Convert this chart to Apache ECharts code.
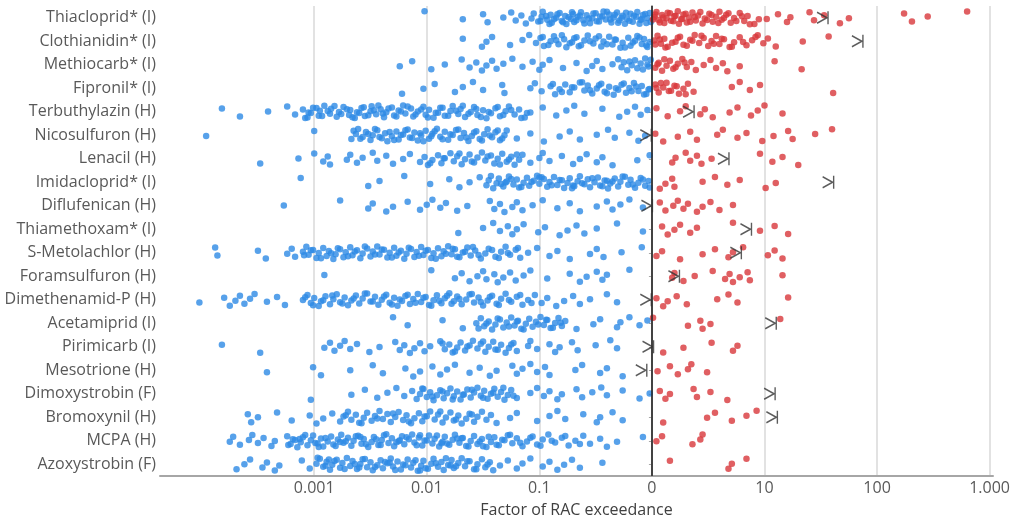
<!DOCTYPE html>
<html lang="en">
<head>
<meta charset="UTF-8">
<title>Factor of RAC exceedance</title>
<script src="https://cdn.jsdelivr.net/npm/echarts@6/dist/echarts.min.js"></script>
</head>
<body style="margin:0">
<div id="main" style="width:1014px;height:519px;"></div>
<script>
const substances = ['Thiacloprid* (I)', 'Clothianidin* (I)', 'Methiocarb* (I)', 'Fipronil* (I)',
    'Terbuthylazin (H)', 'Nicosulfuron (H)', 'Lenacil (H)', 'Imidacloprid* (I)', 'Diflufenican (H)',
    'Thiamethoxam* (I)', 'S-Metolachlor (H)', 'Foramsulfuron (H)', 'Dimethenamid-P (H)', 'Acetamiprid (I)',
    'Pirimicarb (I)', 'Mesotrione (H)', 'Dimoxystrobin (F)', 'Bromoxynil (H)', 'MCPA (H)', 'Azoxystrobin (F)'];

// tick positions (log10) and how they are labelled
const tickValues = [-3, -2, -1, 0, 1, 2, 3];
const tickLabels = ['0.001', '0.01', '0.1', '0', '10', '100', '1.000'];

// log10 of the factor of RAC exceedance, one list per substance
const thiacloprid = [-2.02, -1.68, -1.5, -1.46, -1.32, -1.25, -1.21, -1.16, -1.12, -1.07, -1.05, -1.01, -0.98, -0.97, -0.93, -0.9, -0.89, -0.85, -0.82, -0.8, -0.77, -0.76, -0.72, -0.7, -0.69, -0.66, -0.63, -0.61, -0.58, -0.55, -0.53, -0.5, -0.49, -0.46, -0.43, -0.41, -0.38, -0.36, -0.34, -0.31, -0.29, -0.26, -0.24, -0.22, -0.19, -0.17, -0.14, -0.13, -0.1, -0.08, -0.05, -0.04, -0.02,
    -0.99, -0.94, -0.91, -0.87, -0.84, -0.79, -0.74, -0.71, -0.67, -0.64, -0.6, -0.56, -0.52, -0.47, -0.44, -0.4, -0.37, -0.33, -0.3, -0.27, -0.23, -0.2, -0.16, -0.11, -0.09, -0.06, -0.01,
    0.02, 0.04, 0.06, 0.09, 0.11, 0.13, 0.16, 0.19, 0.2, 0.23, 0.26, 0.28, 0.31, 0.33, 0.36, 0.39, 0.41, 0.45, 0.47, 0.51, 0.54, 0.57, 0.6, 0.62, 0.66, 0.7, 0.73, 0.78, 0.82, 0.85, 0.91, 1.02, 1.12, 1.2, 1.23, 1.4, 1.44, 1.53, 1.67, 1.75, 2.24, 2.31, 2.45, 2.8,
    0.01, 0.03, 0.07, 0.1, 0.14, 0.17, 0.21, 0.24, 0.27, 0.3, 0.34, 0.38, 0.43, 0.49, 0.53, 0.59, 0.64, 0.68, 0.75, 0.8, 0.87, 0.95];
const clothianidin = [-1.68, -1.51, -1.47, -1.42, -1.26, -1.15, -1.09, -1.03, -0.99, -0.96, -0.9, -0.87, -0.83, -0.78, -0.76, -0.71, -0.67, -0.63, -0.6, -0.57, -0.52, -0.5, -0.45, -0.43, -0.38, -0.35, -0.32, -0.28, -0.26, -0.21, -0.19, -0.15, -0.13, -0.09, -0.07, -0.04, -0.02,
    -0.97, -0.92, -0.85, -0.8, -0.73, -0.69, -0.65, -0.55, -0.47, -0.4, -0.33, -0.24, -0.17, -0.11, -0.05,
    0.02, 0.05, 0.08, 0.11, 0.14, 0.21, 0.25, 0.28, 0.34, 0.38, 0.42, 0.46, 0.5, 0.53, 0.57, 0.6, 0.64, 0.69, 0.73, 0.78, 0.84, 0.89, 0.94, 0.99, 1.03, 1.1, 1.34, 1.57,
    0.03, 0.07, 0.12, 0.18, 0.23, 0.31, 0.36, 0.44, 0.55, 0.62, 0.71, 0.81, 0.92];
const methiocarb = [-2.24, -2.13, -1.96, -1.84, -1.69, -1.62, -1.56, -1.51, -1.47, -1.42, -1.38, -1.32, -1.24, -1.15, -1.06, -1.0, -0.97, -0.91, -0.79, -0.67, -0.58, -0.53, -0.49, -0.44, -0.35, -0.3, -0.27, -0.25, -0.22, -0.18, -0.15, -0.13, -0.1, -0.06, -0.03,
    -0.2, -0.08, -0.04, -0.01,
    0.03, 0.06, 0.09, 0.13, 0.16, 0.19, 0.23, 0.27, 0.31, 0.35, 0.39, 0.46, 0.52, 0.57, 0.63, 0.67, 0.78, 1.09, 1.33,
    0.05, 0.11, 0.21, 0.29];
const fipronil = [-2.22, -2.03, -1.93, -1.75, -1.68, -1.59, -1.5, -1.33, -1.31, -1.08, -1.04, -0.98, -0.9, -0.86, -0.82, -0.77, -0.73, -0.69, -0.64, -0.6, -0.57, -0.53, -0.49, -0.45, -0.42, -0.38, -0.34, -0.3, -0.27, -0.23, -0.2, -0.16, -0.12, -0.09, -0.05, -0.02,
    -0.88, -0.8, -0.71, -0.62, -0.55, -0.47, -0.4, -0.32, -0.25, -0.18, -0.14, -0.07, -0.03,
    0.03, 0.06, 0.1, 0.13, 0.17, 0.2, 0.24, 0.28, 0.32, 0.37, 0.71, 0.78, 0.87, 0.96, 1.61,
    0.04, 0.08, 0.15, 0.22, 0.3];
const terbuthylazin = [-3.82, -3.66, -3.41, -3.24, -3.17, -3.1, -3.06, -3.05, -3.01, -2.96, -2.95, -2.91, -2.86, -2.85, -2.8, -2.78, -2.74, -2.69, -2.68, -2.64, -2.6, -2.58, -2.55, -2.5, -2.49, -2.45, -2.41, -2.38, -2.36, -2.31, -2.29, -2.25, -2.21, -2.19, -2.14, -2.12, -2.08, -2.03, -2.01, -1.98, -1.94, -1.9, -1.88, -1.84, -1.79, -1.77, -1.72, -1.7, -1.66, -1.61, -1.58, -1.55, -1.5, -1.47, -1.43, -1.39, -1.35, -1.3, -1.27, -1.22, -1.18, -1.13, -1.08, -0.97, -0.85, -0.76, -0.69, -0.6, -0.44, -0.29, -0.22, -0.15, -0.1, -0.04,
    -3.08, -3.03, -2.98, -2.93, -2.88, -2.82, -2.76, -2.71, -2.66, -2.62, -2.56, -2.52, -2.47, -2.43, -2.39, -2.34, -2.27, -2.23, -2.17, -2.1, -2.05, -1.99, -1.92, -1.86, -1.81, -1.74, -1.68, -1.63, -1.56, -1.52, -1.45, -1.37, -1.32, -1.25, -1.16, -1.11,
    0.04, 0.14, 0.25, 0.3, 0.43, 0.47, 0.54, 0.69, 0.76, 0.88, 0.94, 1.0, 1.16];
const nicosulfuron = [-3.96, -3.0, -2.67, -2.63, -2.61, -2.57, -2.54, -2.5, -2.48, -2.44, -2.4, -2.37, -2.35, -2.31, -2.27, -2.25, -2.21, -2.17, -2.15, -2.11, -2.08, -2.05, -2.01, -1.98, -1.95, -1.91, -1.88, -1.84, -1.81, -1.77, -1.74, -1.7, -1.67, -1.63, -1.6, -1.56, -1.53, -1.49, -1.46, -1.42, -1.39, -1.35, -1.31, -1.29, -1.2, -1.08, -0.96, -0.82, -0.73, -0.64, -0.49, -0.39, -0.33, -0.2, -0.12, -0.06,
    -2.65, -2.59, -2.52, -2.46, -2.42, -2.33, -2.29, -2.23, -2.19, -2.13, -2.06, -2.03, -1.96, -1.93, -1.86, -1.79, -1.72, -1.65, -1.58, -1.51, -1.44, -1.37, -1.33,
    0.03, 0.1, 0.23, 0.34, 0.4, 0.58, 0.63, 0.76, 0.84, 0.98, 1.08, 1.21, 1.25, 1.45, 1.6];
const lenacil = [-3.48, -3.14, -3.0, -2.92, -2.88, -2.86, -2.71, -2.68, -2.62, -2.57, -2.48, -2.44, -2.36, -2.3, -2.21, -2.15, -2.06, -2.02, -1.99, -1.95, -1.9, -1.87, -1.84, -1.79, -1.76, -1.73, -1.69, -1.66, -1.62, -1.58, -1.55, -1.51, -1.48, -1.43, -1.4, -1.37, -1.33, -1.29, -1.25, -1.22, -1.18, -1.15, -1.08, -1.0, -0.97, -0.91, -0.8, -0.7, -0.64, -0.58, -0.49, -0.44, -0.35, -0.13, -0.02,
    -1.97, -1.85, -1.71, -1.6, -1.46, -1.35, -1.27, -1.2,
    0.18, 0.21, 0.3, 0.34, 0.4, 0.44, 0.53, 0.96, 1.07, 1.16, 1.3];
const imidacloprid = [-3.12, -2.52, -2.42, -2.2, -1.97, -1.8, -1.71, -1.62, -1.53, -1.47, -1.45, -1.41, -1.38, -1.36, -1.32, -1.29, -1.27, -1.23, -1.2, -1.18, -1.14, -1.11, -1.09, -1.05, -1.02, -1.0, -0.96, -0.93, -0.91, -0.87, -0.84, -0.82, -0.78, -0.75, -0.73, -0.69, -0.66, -0.64, -0.6, -0.57, -0.55, -0.51, -0.48, -0.46, -0.42, -0.39, -0.37, -0.33, -0.3, -0.28, -0.24, -0.21, -0.19, -0.15, -0.12, -0.1, -0.06, -0.03,
    -1.43, -1.34, -1.25, -1.16, -1.07, -0.98, -0.89, -0.8, -0.71, -0.62, -0.53, -0.44, -0.35, -0.26, -0.17, -0.08, -0.02, -1.3, -1.0, -0.7, -0.4,
    0.07, 0.12, 0.18, 0.2, 0.45, 0.56, 0.67, 0.78, 1.01, 1.1];
const diflufenican = [-3.27, -2.77, -2.52, -2.48, -2.36, -2.3, -2.17, -2.06, -2.0, -1.95, -1.88, -1.83, -1.73, -1.64, -1.44, -1.4, -1.35, -1.31, -1.24, -1.2, -1.15, -1.06, -0.97, -0.84, -0.73, -0.64, -0.49, -0.4, -0.35, -0.28, -0.2, -0.08,
    0.07, 0.12, 0.19, 0.23, 0.28, 0.32, 0.4, 0.45, 0.52, 0.6, 0.72];
const thiamethoxam = [-1.72, -1.5, -1.41, -1.35, -1.28, -1.24, -1.2, -1.14, -1.01, -0.95, -0.82, -0.75, -0.67, -0.6, -0.49, -0.31, -0.08,
    0.09, 0.14, 0.2, 0.25, 0.34, 0.4, 0.72, 0.96, 1.09, 1.21];
const sMetolachlor = [-3.88, -3.86, -3.5, -3.43, -3.24, -3.2, -3.17, -3.1, -3.07, -3.05, -3.01, -2.98, -2.96, -2.92, -2.89, -2.87, -2.83, -2.81, -2.77, -2.74, -2.72, -2.68, -2.66, -2.62, -2.59, -2.57, -2.53, -2.5, -2.48, -2.44, -2.42, -2.38, -2.35, -2.33, -2.29, -2.27, -2.23, -2.2, -2.18, -2.14, -2.11, -2.09, -2.05, -2.03, -1.99, -1.96, -1.94, -1.9, -1.87, -1.85, -1.81, -1.78, -1.75, -1.71, -1.68, -1.64, -1.61, -1.57, -1.52, -1.48, -1.45, -1.39, -1.34, -1.3, -1.26, -1.21, -1.17, -1.1, -1.02, -0.91, -0.84, -0.73, -0.55, -0.49, -0.43, -0.27, -0.09,
    -3.09, -3.03, -2.94, -2.85, -2.79, -2.7, -2.64, -2.55, -2.46, -2.4, -2.31, -2.25, -2.16, -2.07, -2.01, -1.92, -1.83, -1.77, -1.73, -1.66, -1.59, -1.54, -1.42, -1.36, -1.28, -1.19,
    0.04, 0.09, 0.25, 0.45, 0.56, 0.68, 0.72, 0.81, 1.03, 1.09, 1.16];
const foramsulfuron = [-2.91, -1.96, -1.75, -1.69, -1.62, -1.55, -1.5, -1.47, -1.4, -1.37, -1.32, -1.26, -1.21, -1.14, -1.08, -0.93, -0.73, -0.64, -0.58, -0.49, -0.44, -0.4, -0.2,
    0.18, 0.2, 0.28, 0.38, 0.54, 0.65, 0.69, 0.72, 0.78, 0.85, 0.87, 1.16];
const dimethenamidP = [-4.02, -3.8, -3.75, -3.7, -3.66, -3.62, -3.57, -3.53, -3.42, -3.33, -3.26, -3.1, -3.06, -3.03, -3.0, -2.96, -2.94, -2.9, -2.86, -2.83, -2.8, -2.77, -2.73, -2.7, -2.67, -2.63, -2.6, -2.57, -2.53, -2.5, -2.46, -2.43, -2.4, -2.36, -2.33, -2.29, -2.26, -2.22, -2.19, -2.15, -2.12, -2.08, -2.05, -2.01, -1.98, -1.94, -1.91, -1.87, -1.84, -1.8, -1.76, -1.73, -1.69, -1.65, -1.62, -1.58, -1.54, -1.5, -1.46, -1.42, -1.38, -1.34, -1.3, -1.25, -1.2, -1.15, -1.1, -1.04, -0.98, -0.93, -0.85, -0.78, -0.7, -0.64, -0.55, -0.4, -0.31,
    -3.08, -3.01, -2.92, -2.84, -2.75, -2.65, -2.55, -2.48, -2.38, -2.31, -2.24, -2.17, -2.1, -2.03, -1.96, -1.89, -1.82, -1.78, -1.71, -1.6, -1.52, -1.44, -1.36, -1.27, -1.17, -1.07,
    0.04, 0.1, 0.14, 0.22, 0.31, 0.58, 0.68, 0.76, 1.21];
const acetamiprid = [-2.3, -2.17, -1.86, -1.68, -1.56, -1.52, -1.49, -1.45, -1.42, -1.39, -1.35, -1.32, -1.29, -1.25, -1.22, -1.19, -1.16, -1.12, -1.09, -1.06, -1.03, -0.99, -0.96, -0.93, -0.9, -0.86, -0.83, -0.8, -0.77, -0.67, -0.52, -0.46, -0.31, -0.28, -0.2, -0.11, -0.04,
    -1.54, -1.47, -1.37, -1.27, -1.2, -1.14, -1.01, -0.94, -0.88, -0.81,
    0.01, 0.32, 0.43, 0.45, 0.52, 1.14];
const pirimicarb = [-3.82, -3.48, -2.91, -2.86, -2.82, -2.77, -2.73, -2.68, -2.62, -2.51, -2.42, -2.28, -2.24, -2.2, -2.15, -2.11, -2.06, -2.02, -1.97, -1.88, -1.84, -1.8, -1.77, -1.73, -1.7, -1.66, -1.62, -1.59, -1.55, -1.52, -1.48, -1.45, -1.41, -1.37, -1.34, -1.3, -1.27, -1.23, -1.2, -1.1, -1.08, -1.02, -0.91, -0.86, -0.82, -0.71, -0.66, -0.5, -0.37, -0.31,
    -1.86, -1.75, -1.64, -1.5, -1.39, -1.25,
    0.1, 0.28, 0.53, 0.72, 0.76];
const mesotrione = [-3.42, -3.01, -2.94, -2.68, -2.48, -2.39, -2.19, -2.12, -2.06, -1.95, -1.88, -1.82, -1.75, -1.62, -1.53, -1.44, -1.38, -1.24, -1.2, -1.15, -1.08, -1.02, -0.95, -0.91, -0.68, -0.62, -0.46, -0.4, -0.26,
    0.05, 0.16, 0.23, 0.32, 0.35, 0.49];
const dimoxystrobin = [-3.03, -2.67, -2.55, -2.44, -2.35, -2.27, -2.2, -2.13, -2.09, -2.06, -2.03, -2.0, -1.97, -1.94, -1.91, -1.88, -1.85, -1.82, -1.79, -1.76, -1.73, -1.7, -1.67, -1.64, -1.61, -1.58, -1.55, -1.52, -1.49, -1.46, -1.43, -1.4, -1.37, -1.34, -1.31, -1.28, -1.25, -1.2, -1.08, -1.02, -0.96, -0.91, -0.84, -0.8, -0.67, -0.62, -0.53, -0.45, -0.4, -0.26, -0.11, -0.02,
    -2.04, -1.95, -1.86, -1.77, -1.68, -1.6, -1.5, -1.41, -1.32, -1.23,
    0.07, 0.12, 0.16, 0.37, 0.4, 0.52, 0.67];
const bromoxynil = [-3.59, -3.56, -3.5, -3.33, -3.2, -3.04, -2.98, -2.92, -2.84, -2.77, -2.74, -2.7, -2.67, -2.63, -2.6, -2.56, -2.53, -2.49, -2.46, -2.42, -2.39, -2.35, -2.32, -2.28, -2.25, -2.21, -2.18, -2.14, -2.11, -2.07, -2.04, -2.0, -1.97, -1.93, -1.9, -1.86, -1.83, -1.79, -1.76, -1.72, -1.69, -1.65, -1.62, -1.58, -1.55, -1.51, -1.47, -1.43, -1.38, -1.26, -1.2, -1.02, -0.91, -0.84, -0.77, -0.61, -0.49, -0.46, -0.35, -0.26,
    -2.72, -2.58, -2.44, -2.3, -2.16, -2.02, -1.88, -1.74, -1.6,
    0.1, 0.49, 0.56, 0.71, 0.84, 0.93];
const mcpa = [-3.75, -3.72, -3.66, -3.58, -3.55, -3.5, -3.45, -3.38, -3.35, -3.24, -3.21, -3.19, -3.15, -3.12, -3.1, -3.06, -3.03, -3.01, -2.97, -2.94, -2.92, -2.88, -2.85, -2.83, -2.79, -2.76, -2.74, -2.7, -2.67, -2.65, -2.61, -2.58, -2.56, -2.52, -2.49, -2.47, -2.43, -2.4, -2.38, -2.34, -2.31, -2.29, -2.25, -2.22, -2.2, -2.16, -2.13, -2.11, -2.07, -2.04, -2.02, -1.98, -1.95, -1.93, -1.89, -1.86, -1.84, -1.8, -1.77, -1.75, -1.71, -1.68, -1.65, -1.61, -1.58, -1.55, -1.51, -1.47, -1.43, -1.4, -1.36, -1.31, -1.28, -1.24, -1.2, -1.15, -1.11, -1.06, -1.02, -0.97, -0.92, -0.86, -0.8, -0.74, -0.68, -0.61, -0.55, -0.46, -0.4, -0.31, -0.08,
    -3.23, -3.17, -3.08, -2.99, -2.9, -2.81, -2.72, -2.63, -2.54, -2.45, -2.36, -2.27, -2.18, -2.09, -2.0, -1.91, -1.82, -1.73, -1.63, -1.53, -1.45, -1.38, -1.33, -1.26, -1.17, -1.08, -0.99, -0.89, -0.77, -0.64, -3.13, -2.96, -2.77, -2.59, -2.41, -2.24, -2.06, -1.87, -1.69, -1.5,
    0.04, 0.09, 0.36, 0.43, 0.45];
const azoxystrobin = [-3.69, -3.62, -3.57, -3.46, -3.42, -3.35, -3.31, -3.11, -3.04, -2.98, -2.95, -2.92, -2.89, -2.86, -2.84, -2.8, -2.77, -2.75, -2.71, -2.68, -2.66, -2.62, -2.59, -2.57, -2.53, -2.5, -2.48, -2.44, -2.41, -2.39, -2.35, -2.32, -2.3, -2.26, -2.23, -2.21, -2.17, -2.14, -2.12, -2.08, -2.05, -2.03, -1.99, -1.96, -1.94, -1.9, -1.87, -1.85, -1.81, -1.78, -1.76, -1.72, -1.69, -1.66, -1.62, -1.58, -1.55, -1.51, -1.48, -1.44, -1.41, -1.35, -1.28, -1.2, -1.15, -1.08, -0.97, -0.91, -0.84, -0.78, -0.71, -0.64, -0.44,
    -2.97, -2.9, -2.82, -2.73, -2.64, -2.55, -2.46, -2.37, -2.28, -2.19, -2.1, -2.01, -1.92, -1.83, -1.74, -1.64, -1.56, -1.46, -2.87, -2.6, -2.33, -2.06, -1.79,
    0.16, 0.68, 0.71, 0.84];

// log10 of the ">|" mark per substance (null = none)
const markLog10 = [1.56, 1.87, null, null, 0.37, -0.01, 0.68, 1.61, 0, 0.88, 0.79, 0.24, -0.01, 1.1, 0.01, -0.05, 1.09, 1.11, null, null];

const measured = [thiacloprid, clothianidin, methiocarb, fipronil, terbuthylazin, nicosulfuron, lenacil,
    imidacloprid, diflufenican, thiamethoxam, sMetolachlor, foramsulfuron, dimethenamidP, acetamiprid,
    pirimicarb, mesotrione, dimoxystrobin, bromoxynil, mcpa, azoxystrobin];

const chart = echarts.init(document.getElementById('main'));
const font = '"Open Sans", sans-serif';

// spread the points of one row a little in y so they do not sit on top of each other
const below = [], above = [], marks = [];
measured.forEach((row, r) => {
    row.forEach((v, k) => {
        const y = r + (((k * 0.618034 + r * 0.31) % 1) - 0.5) * 0.55;
        (v < 0 ? below : above).push([v, y]);
    });
    if (markLog10[r] !== null) marks.push([markLog10[r], r]);
});

chart.setOption({
    animation: false,
    backgroundColor: '#fff',
    grid: {left: 160, right: 21, top: 6, bottom: 43, outerBoundsMode: 'none', containLabel: false},
    xAxis: {
        type: 'value',
        min: -4.37,
        max: 3.03,
        name: 'Factor of RAC exceedance',
        nameLocation: 'middle',
        nameGap: 26,
        nameTextStyle: {fontFamily: font, fontSize: 16, color: '#404040'},
        axisLine: {onZero: false, lineStyle: {color: '#a6a6a6', width: 2}},
        axisTick: {show: false, customValues: tickValues},
        axisLabel: {
            customValues: tickValues,
            fontFamily: font, fontSize: 16, color: '#595959', margin: 4,
            formatter: v => tickLabels[tickValues.indexOf(v)]
        },
        splitLine: {show: true, lineStyle: {color: '#d9d9d9', width: 1.5}}
    },
    yAxis: [{
        type: 'category',
        data: substances,
        inverse: true,
        axisLine: {lineStyle: {color: '#a6a6a6', width: 2}},
        axisTick: {show: true, alignWithLabel: true, length: 3, lineStyle: {color: '#a6a6a6'}},
        axisLabel: {fontFamily: font, fontSize: 16, color: '#595959', margin: 4},
        splitLine: {show: false}
    }, {
        type: 'value', min: -0.5, max: 19.5, inverse: true, show: false
    }],
    series: [{
        name: 'below',
        type: 'scatter',
        yAxisIndex: 1,
        symbolSize: 6.5,
        itemStyle: {color: '#2d8ae5'},
        data: below,
        markLine: {
            silent: true,
            symbol: 'none',
            label: {show: false},
            lineStyle: {color: '#222', width: 1.5, type: 'solid'},
            data: [{xAxis: 0}]
        }
    }, {
        name: 'above',
        type: 'scatter',
        yAxisIndex: 1,
        symbolSize: 6.5,
        itemStyle: {color: '#d8373b'},
        data: above
    }, {
        name: 'mark',
        type: 'scatter',
        yAxisIndex: 1,
        z: 5,
        symbol: 'path://M0,1L9,6L0,11M10,0L10,12',
        symbolSize: [11, 13],
        symbolOffset: [-5, 0],
        itemStyle: {color: 'none', borderColor: '#333', borderWidth: 1.5},
        data: marks
    }]
});
</script>
</body>
</html>
